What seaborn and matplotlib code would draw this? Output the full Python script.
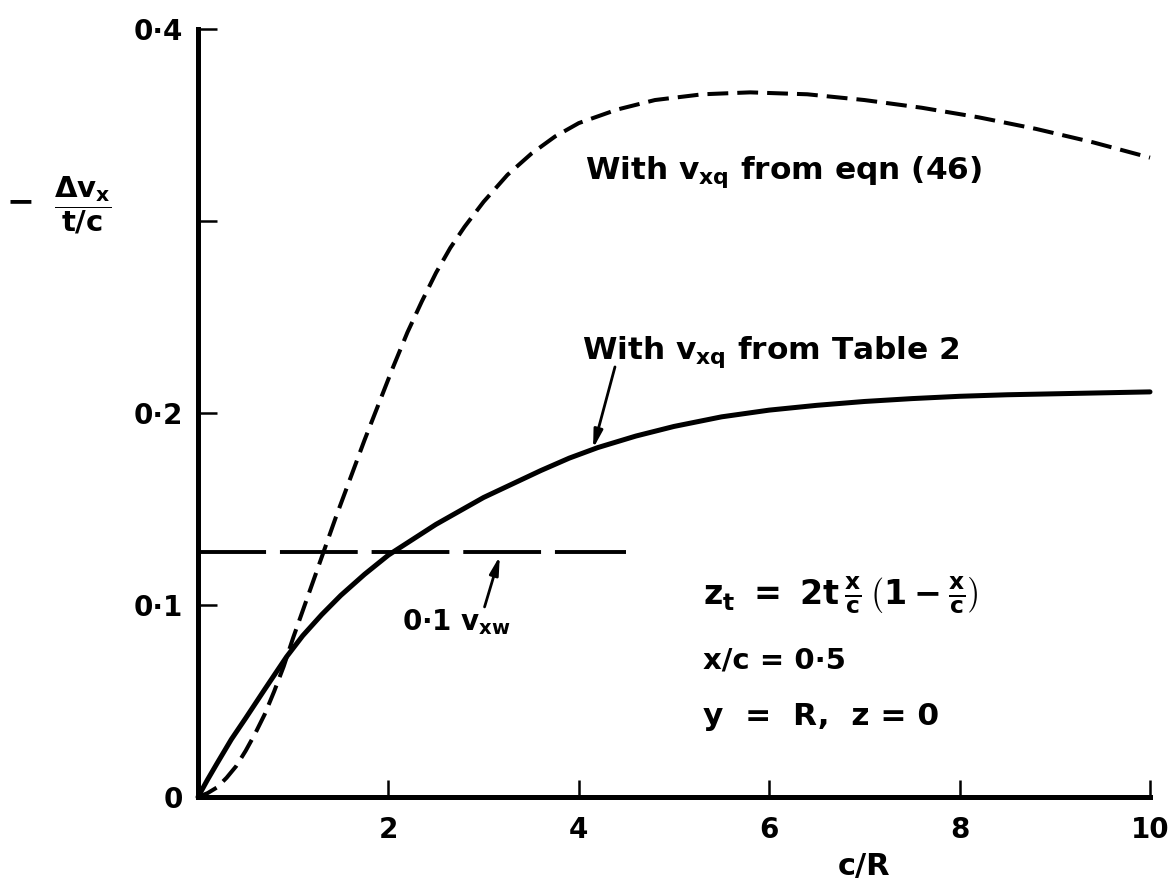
import matplotlib
matplotlib.use("Agg")
import matplotlib.pyplot as plt
import seaborn as sns

# c/R stations and -dvx/(t/c) with v_xq from Table 2 (solid curve)
cr_table = [0, 0.1, 0.2, 0.35, 0.5, 0.7, 0.93, 1.1, 1.3, 1.5, 1.75, 2.0, 2.25,
            2.5, 2.75, 3.0, 3.3, 3.6, 3.9, 4.2, 4.6, 5.0, 5.5, 6.0, 6.5, 7.0,
            7.5, 8.0, 8.5, 9.0, 9.5, 10.0]
dv_table = [0, 0.009, 0.0175, 0.030, 0.041, 0.056, 0.073, 0.084, 0.095, 0.105,
            0.116, 0.126, 0.134, 0.142, 0.149, 0.156, 0.163, 0.170, 0.1765,
            0.182, 0.188, 0.193, 0.198, 0.2015, 0.204, 0.206, 0.2075, 0.2087,
            0.2095, 0.210, 0.2105, 0.211]

# c/R stations and -dvx/(t/c) with v_xq from eqn (46) (dashed curve)
cr_eqn = [0, 0.1, 0.2, 0.3, 0.4, 0.5, 0.6, 0.7, 0.8, 0.9, 1.0, 1.15, 1.3,
          1.45, 1.6, 1.75, 1.9, 2.05, 2.2, 2.35, 2.5, 2.65, 2.8, 3.0, 3.25,
          3.5, 3.75, 4.0, 4.4, 4.8, 5.3, 5.8, 6.4, 7.0, 7.6, 8.2, 8.8, 9.4,
          10.0]
dv_eqn = [0, 0.002, 0.005, 0.010, 0.016, 0.024, 0.033, 0.043, 0.055, 0.068,
          0.083, 0.104, 0.125, 0.146, 0.166, 0.186, 0.205, 0.224, 0.242,
          0.258, 0.273, 0.286, 0.297, 0.310, 0.324, 0.335, 0.344, 0.351,
          0.358, 0.363, 0.366, 0.367, 0.366, 0.363, 0.359, 0.354, 0.348,
          0.341, 0.333]

# reference level 0.1 v_xw
cr_vxw = [0, 4.5]
dv_vxw = [0.1276, 0.1276]

x_ticks = [0, 2, 4, 6, 8, 10]
x_tick_labels = ["", "2", "4", "6", "8", "10"]
y_ticks = [0, 0.1, 0.2, 0.3, 0.4]
y_tick_labels = ["0", "0·1", "0·2", "", "0·4"]

sns.set_theme(style="ticks")
plt.rcParams["font.family"] = ["DejaVu Sans"]
plt.rcParams["font.weight"] = "bold"
plt.rcParams["mathtext.fontset"] = "custom"
plt.rcParams["mathtext.rm"] = "DejaVu Sans:bold"
plt.rcParams["mathtext.it"] = "DejaVu Sans:bold"
plt.rcParams["mathtext.bf"] = "DejaVu Sans:bold"
plt.rcParams["lines.scale_dashes"] = False

W, H = 1171, 888
fig = plt.figure(figsize=(W / 100, H / 100), dpi=100)
x0, x1, y0, y1 = 198, 1150, 797, 29
ax = fig.add_axes([x0 / W, 1 - y0 / H, (x1 - x0) / W, (y0 - y1) / H])

sns.lineplot(x=cr_table, y=dv_table, ax=ax, color="black", lw=3.6,
             estimator=None, clip_on=False)
sns.lineplot(x=cr_eqn, y=dv_eqn, ax=ax, color="black", lw=2.9,
             estimator=None, clip_on=False)
ax.lines[-1].set_dashes((15, 6.5))
sns.lineplot(x=cr_vxw, y=dv_vxw, ax=ax, color="black", lw=2.8,
             estimator=None)
ax.lines[-1].set_linestyle((7, (56, 10)))

ax.set_xlim(0, 10)
ax.set_ylim(0, 0.4)
sns.despine(ax=ax)
for side in ("left", "bottom"):
    ax.spines[side].set_linewidth(3.6)
    ax.spines[side].set_color("black")

ax.set_xticks(x_ticks)
ax.set_xticklabels(x_tick_labels)
ax.set_yticks(y_ticks)
ax.set_yticklabels(y_tick_labels)
ax.tick_params(axis="y", direction="in", length=14, width=1.8, pad=11,
               labelsize=20, colors="black")
ax.tick_params(axis="x", direction="in", length=12, width=1.8, pad=14,
               labelsize=20, colors="black")

ax.set_xlabel("c/R", fontsize=22, fontweight="bold", color="black")
ax.xaxis.set_label_coords(0.70, -0.071)
ax.set_ylabel("")
fig.text(20 / W, 1 - 202 / H, "−", fontsize=24, ha="center", va="center",
         color="black")
fig.text(83 / W, 1 - 205 / H, r"$\dfrac{\Delta v_x}{t/c}$", fontsize=21,
         ha="center", va="center", color="black")

txt = dict(fontsize=22.5, fontweight="bold", color="black", va="center",
           ha="left")
ax.text(4.07, 0.3255, r"With $v_{xq}$ from eqn (46)", **txt)
ax.text(4.03, 0.232, r"With $v_{xq}$ from Table 2", **txt)
ax.text(2.14, 0.091, r"0·1 $v_{xw}$", **dict(txt, fontsize=20))
ax.text(5.30, 0.105, r"$z_t\ =\ 2t\,\frac{x}{c}\,\left(1-\frac{x}{c}\right)$",
        **dict(txt, fontsize=24))
ax.text(5.30, 0.071, r"x/c = 0·5", **dict(txt, fontsize=21))
ax.text(5.30, 0.042, r"y  =  R,  z = 0", **txt)

arrow = dict(arrowstyle="-|>,head_length=0.9,head_width=0.22", color="black",
             lw=2.0, shrinkA=0, shrinkB=0)
ax.annotate("", xy=(4.15, 0.1815), xytext=(4.38, 0.224), arrowprops=arrow)
ax.annotate("", xy=(3.17, 0.1255), xytext=(3.01, 0.099), arrowprops=arrow)

fig.savefig("out.png", dpi=100, facecolor="white")
